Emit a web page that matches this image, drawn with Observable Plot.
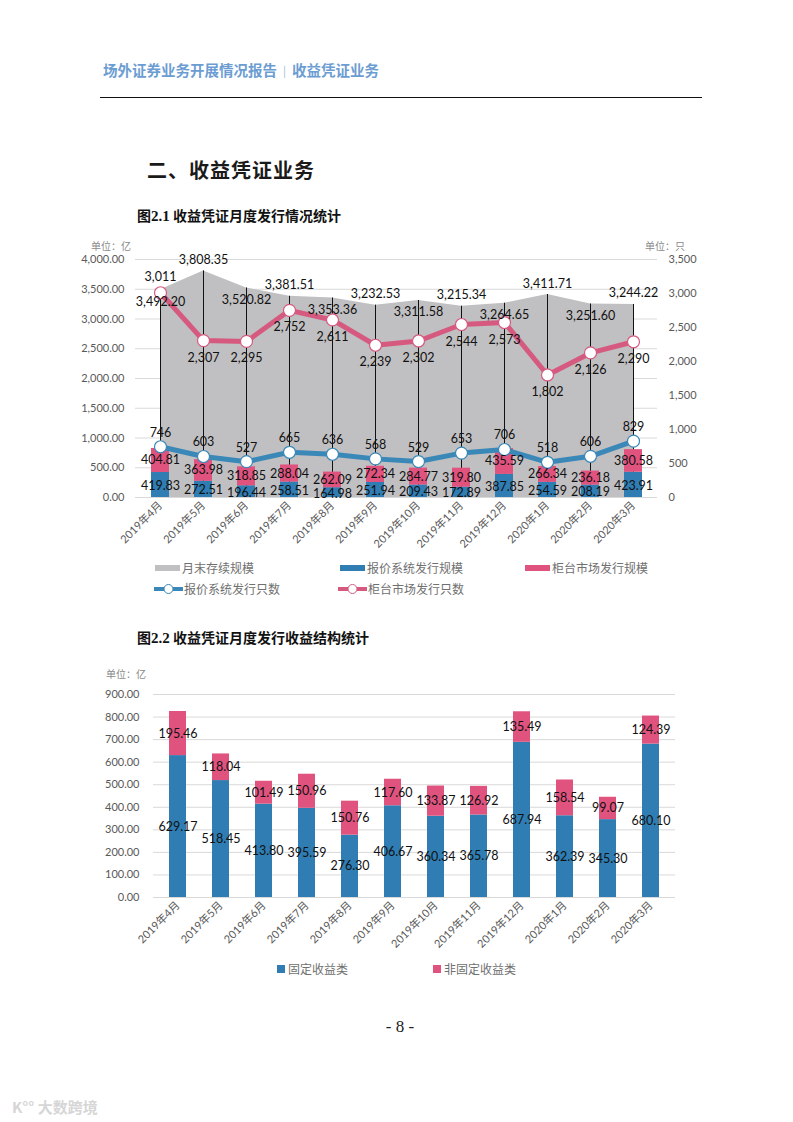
<!DOCTYPE html>
<html><head><meta charset="utf-8">
<script src="https://cdn.jsdelivr.net/npm/d3@7"></script>
<script src="https://cdn.jsdelivr.net/npm/@observablehq/plot@0.6"></script>
<style>
html,body{margin:0;padding:0;background:#fff;}
#page{position:relative;width:793px;height:1122px;overflow:hidden;font-family:"Noto Sans CJK SC",sans-serif;}
.abs{position:absolute;white-space:nowrap;}
.hdr{left:103px;top:60px;font-size:14.5px;font-weight:700;color:#6c9dd2;line-height:20px;}
.hdr .bar{font-weight:400;font-size:11px;color:#9bb8da;margin:0 6px;vertical-align:1px;}
.rule{left:100px;top:97px;width:602px;border-top:1.5px solid #111;}
.h2{left:147px;top:156px;font-size:20px;font-weight:700;letter-spacing:1px;color:#1a1a1a;line-height:28px;}
.cap{left:137px;font-size:14px;font-weight:700;color:#111;line-height:20px;}
.cap .num{font-family:"Liberation Serif",serif;font-weight:700;font-size:15px;}
.unit{font-size:10px;color:#8a8a8a;line-height:14px;}
.lg{font-size:12px;color:#707070;line-height:16px;display:flex;align-items:center;}
.sw{display:inline-block;width:25px;height:6px;margin-right:2px;}
.sq{display:inline-block;width:8px;height:8px;margin-right:3px;}
.pg{left:0;width:800px;text-align:center;top:1017px;font-family:"Liberation Serif",serif;font-size:17px;color:#222;}
.wm{left:12px;top:1096px;font-size:15px;font-weight:700;color:#d6d6d6;}
#c1{position:absolute;left:0;top:230px;}
#c2{position:absolute;left:0;top:680px;}
</style></head><body><div id="page">
<div class="abs hdr">场外证券业务开展情况报告<span class="bar">|</span>收益凭证业务</div>
<div class="abs rule"></div>
<div class="abs h2">二、收益凭证业务</div>
<div class="abs cap" style="top:205px;">图<span class="num">2.1</span> 收益凭证月度发行情况统计</div>
<div class="abs unit" style="left:91px;top:239px;">单位：亿</div>
<div class="abs unit" style="left:645px;top:239px;">单位：只</div>
<div id="c1"></div>
<div class="abs lg" style="left:155px;top:560px;"><span class="sw" style="background:#c0bfc1"></span>月末存续规模</div>
<div class="abs lg" style="left:340px;top:560px;"><span class="sw" style="background:#2f7db3"></span>报价系统发行规模</div>
<div class="abs lg" style="left:525px;top:560px;"><span class="sw" style="background:#e1537f"></span>柜台市场发行规模</div>
<div class="abs lg" style="left:154px;top:581px;"><svg width="29" height="12" style="margin-right:1px"><line x1="0" y1="6" x2="29" y2="6" stroke="#3a88b8" stroke-width="4"/><circle cx="14.5" cy="6" r="4.5" fill="#fff" stroke="#3a88b8" stroke-width="1"/></svg>报价系统发行只数</div>
<div class="abs lg" style="left:338px;top:581px;"><svg width="29" height="12" style="margin-right:1px"><line x1="0" y1="6" x2="29" y2="6" stroke="#d65a80" stroke-width="4"/><circle cx="14.5" cy="6" r="4.5" fill="#fff" stroke="#d65a80" stroke-width="1"/></svg>柜台市场发行只数</div>
<div class="abs cap" style="top:627px;">图<span class="num">2.2</span> 收益凭证月度发行收益结构统计</div>
<div class="abs unit" style="left:106px;top:667px;">单位：亿</div>
<div id="c2"></div>
<div class="abs lg" style="left:277px;top:961px;"><span class="sq" style="background:#2f7db3"></span>固定收益类</div>
<div class="abs lg" style="left:433px;top:961px;"><span class="sq" style="background:#e1537f"></span>非固定收益类</div>
<div class="abs pg">- 8 -</div>
<div class="abs wm">K°° 大数跨境</div>
</div>
<script>
// ---- data ----
const months = ["2019年4月","2019年5月","2019年6月","2019年7月","2019年8月","2019年9月","2019年10月","2019年11月","2019年12月","2020年1月","2020年2月","2020年3月"];
const stockScale = [3492.20,3808.35,3520.82,3381.51,3353.36,3232.53,3311.58,3215.34,3264.65,3411.71,3251.60,3244.22];
const quoteIssueAmt = [419.83,272.51,196.44,258.51,164.98,251.94,209.43,172.89,387.85,254.59,208.19,423.91];
const counterIssueAmt = [404.81,363.98,318.85,288.04,262.09,272.34,284.77,319.80,435.59,266.34,236.18,380.58];
const quoteIssueCnt = [746,603,527,665,636,568,529,653,706,518,606,829];
const counterIssueCnt = [3011,2307,2295,2752,2611,2239,2302,2544,2573,1802,2126,2290];
const fixedIncome = [629.17,518.45,413.80,395.59,276.30,406.67,360.34,365.78,687.94,362.39,345.30,680.10];
const nonFixedIncome = [195.46,118.04,101.49,150.96,150.76,117.60,133.87,126.92,135.49,158.54,99.07,124.39];
const leftTicks1 = [0,500,1000,1500,2000,2500,3000,3500,4000];
const rightTicks1 = [0,500,1000,1500,2000,2500,3000,3500];
const ticks2 = [0,100,200,300,400,500,600,700,800,900];

// ---- styles ----
const BLUE="#2f7db3", PINK="#e1537f", GREY="#c0bfc1", LBLUE="#3a88b8", LPINK="#d65a80", INK="#111";
const f2 = d3.format(",.2f"), f0 = d3.format(",");
const font = "Lato, 'Noto Sans CJK SC', sans-serif";
const k = 4000/3500; // right axis (count) mapped onto left axis range

const rows = months.map((m,i)=>({i, m, stock:stockScale[i], qa:quoteIssueAmt[i], ca:counterIssueAmt[i], qc:quoteIssueCnt[i], cc:counterIssueCnt[i]}));
const lbl = {fill:INK, fontSize:12.5, fontFamily:font};
// count label goes above its marker only when the marker sits right under the area's edge
const nearTop = d => d.stock - d.cc*k < 200;

const chart1 = Plot.plot({
  width:793, height:330, marginTop:29, marginBottom:63, marginLeft:135, marginRight:136,
  style:{fontFamily:font, fontSize:"11px", color:"#595959", background:"transparent", overflow:"visible"},
  x:{domain:months, paddingInner:0.59, paddingOuter:0.295, tickRotate:-45, tickSize:0, tickPadding:6, label:null},
  y:{domain:[0,4000], ticks:leftTicks1, tickFormat:f2, tickSize:0, tickPadding:11, label:null},
  marks:[
    Plot.ruleY(leftTicks1, {stroke:"#d9d9d9", strokeWidth:1}),
    Plot.areaY(rows, {x:"m", y:"stock", fill:GREY}),
    Plot.ruleX(rows, {x:"m", y1:0, y2:"stock", stroke:"#111", strokeWidth:1}),
    Plot.barY(rows, {x:"m", y1:0, y2:"qa", fill:BLUE}),
    Plot.barY(rows, {x:"m", y1:"qa", y2:d=>d.qa+d.ca, fill:PINK}),
    Plot.line(rows, {x:"m", y:d=>d.qc*k, stroke:LBLUE, strokeWidth:5}),
    Plot.line(rows, {x:"m", y:d=>d.cc*k, stroke:LPINK, strokeWidth:5}),
    Plot.dot(rows, {x:"m", y:d=>d.qc*k, r:6, fill:"#fff", stroke:LBLUE, strokeWidth:1.2}),
    Plot.dot(rows, {x:"m", y:d=>d.cc*k, r:6, fill:"#fff", stroke:LPINK, strokeWidth:1.2}),
    Plot.text(rightTicks1, {y:d=>d*k, text:d=>f0(d), frameAnchor:"right", textAnchor:"start", dx:11, fill:"#595959", fontSize:11}),
    // stock labels, staggered above / below the area's edge
    Plot.text(rows.filter(d=>d.i%2===1), {x:"m", y:"stock", text:d=>f2(d.stock), dy:-11, ...lbl}),
    Plot.text(rows.filter(d=>d.i%2===0), {x:"m", y:"stock", text:d=>f2(d.stock), dy:12, ...lbl}),
    Plot.text(rows.filter(nearTop), {x:"m", y:d=>d.cc*k, text:d=>f0(d.cc), dy:-16, ...lbl}),
    Plot.text(rows.filter(d=>!nearTop(d)), {x:"m", y:d=>d.cc*k, text:d=>f0(d.cc), dy:17, ...lbl}),
    Plot.text(rows, {x:"m", y:d=>d.qc*k, text:d=>f0(d.qc), dy:-14, ...lbl}),
    Plot.text(rows, {x:"m", y:d=>d.qa+d.ca/2, text:d=>f2(d.ca), ...lbl}),
    Plot.text(rows, {x:"m", y:d=>d.qa/2, text:d=>f2(d.qa), dy:1, ...lbl})
  ]
});
document.getElementById("c1").appendChild(chart1);

const rows2 = months.map((m,i)=>({m, a:fixedIncome[i], b:nonFixedIncome[i]}));
const chart2 = Plot.plot({
  width:793, height:280, marginTop:14, marginBottom:63, marginLeft:153, marginRight:118,
  style:{fontFamily:font, fontSize:"11px", color:"#595959", background:"transparent", overflow:"visible"},
  x:{domain:months, paddingInner:0.6, paddingOuter:0.3, tickRotate:-45, tickSize:0, tickPadding:6, label:null},
  y:{domain:[0,900], ticks:ticks2, tickFormat:d3.format(".2f"), tickSize:0, tickPadding:14, label:null},
  marks:[
    Plot.ruleY(ticks2, {stroke:"#d9d9d9", strokeWidth:1}),
    Plot.barY(rows2, {x:"m", y1:0, y2:"a", fill:BLUE}),
    Plot.barY(rows2, {x:"m", y1:"a", y2:d=>d.a+d.b, fill:PINK}),
    Plot.ruleY(rows2, {x:"m", y:"a", stroke:"#dfe9f1", strokeWidth:1}),
    Plot.text(rows2, {x:"m", y:d=>d.a+d.b/2, text:d=>f2(d.b), ...lbl}),
    Plot.text(rows2, {x:"m", y:d=>d.a/2, text:d=>f2(d.a), ...lbl})
  ]
});
document.getElementById("c2").appendChild(chart2);
</script>
</body></html>
